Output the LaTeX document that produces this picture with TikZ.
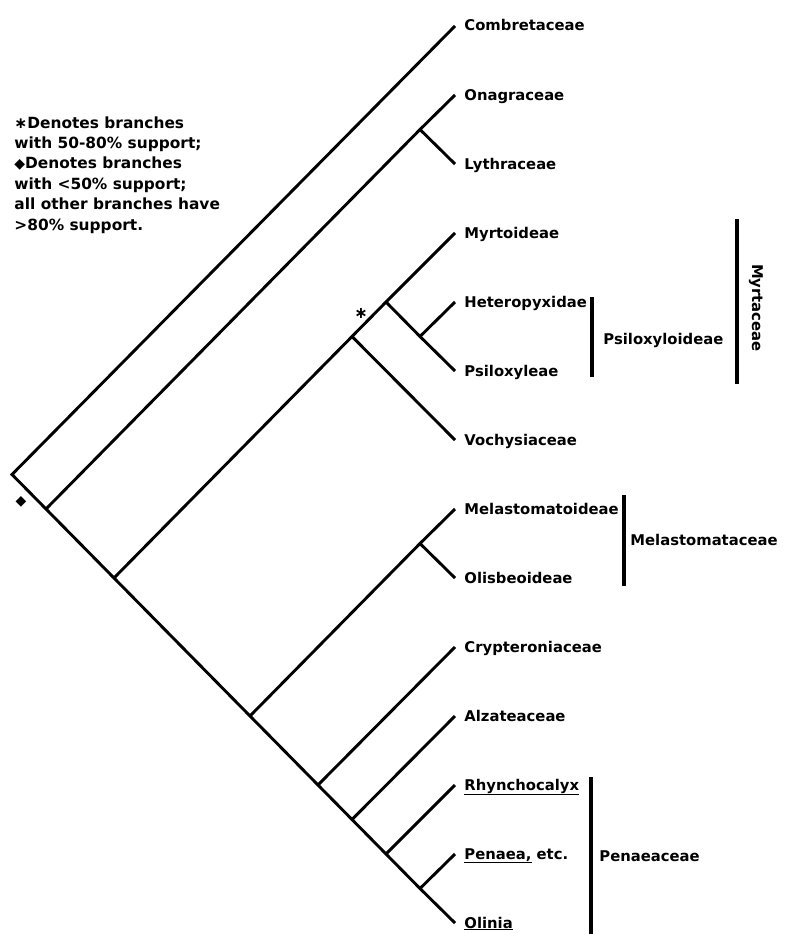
\documentclass[tikz,border=0pt]{standalone}
\usepackage{fontspec}
\setmainfont{DejaVu Sans}
\usepackage{tikz}
\usetikzlibrary{calc}

\newcommand{\weakmark}{\raisebox{0.5pt}{\fontsize{14}{14}\selectfont ◆}}

\begin{document}
\begin{tikzpicture}[x=1pt, y=-1pt, line width=2.9pt,
        taxon/.style={anchor=base west, inner sep=0pt, font=\fontsize{14.8}{18}\selectfont\bfseries},
        bar/.style={line width=3.2pt},
        legend/.style={anchor=north west, align=left, inner sep=0pt, font=\fontsize{15.4}{20.4}\selectfont\bfseries}]
        \useasboundingbox (0,0) rectangle (790,934);

        % Leaf tips and labels
        \foreach \name [count=\i] in {Combretaceae, Onagraceae, Lythraceae, Myrtoideae,
                Heteropyxidae, Psiloxyleae, Vochysiaceae, Melastomatoideae, Olisbeoideae,
                Crypteroniaceae, Alzateaceae, {\underline{Rhynchocalyx}},
                {\underline{Penaea,} etc.}, {\underline{Olinia}}}
        {
            \coordinate (t\i) at (455, {26+69*(\i-1)});
            \node[taxon] (l\i) at ([xshift=8pt, yshift=-5pt]t\i) {\name};
        }

        % Internal nodes
        \coordinate (root) at (12,474.5);
        \coordinate (n1) at (46,509);
        \coordinate (ona) at (420,129.5);
        \coordinate (n2) at (114,578);
        \coordinate (myv) at (352,336.5);
        \coordinate (myr) at (386,302);
        \coordinate (psi) at (420,336.5);
        \coordinate (n4) at (250,716);
        \coordinate (mel) at (420,543.5);
        \coordinate (n5) at (318,785);
        \coordinate (n6) at (352,819.5);
        \coordinate (n7) at (386,854);
        \coordinate (n8) at (420,888.5);

        % Branches
        \draw (t1) -- (root) -- (n1) -- (n2) -- (n4) -- (n5) -- (n6) -- (n7) -- (n8) -- (t14);
        \draw (n1) -- (ona) -- (t2);
        \draw (ona) -- (t3);
        \draw (n2) -- (myv) -- (myr) -- (t4);
        \draw (myr) -- (psi) -- (t6);
        \draw (psi) -- (t5);
        \draw (myv) -- (t7);
        \draw (n4) -- (mel) -- (t8);
        \draw (mel) -- (t9);
        \draw (n5) -- (t10);
        \draw (n6) -- (t11);
        \draw (n7) -- (t12);
        \draw (n8) -- (t13);

        % Support marks
        \node[font=\fontsize{16}{16}\selectfont\bfseries] (star) at ([xshift=9pt, yshift=23pt]myv) {∗};
        \node[inner sep=0pt] (weak) at ([xshift=9pt, yshift=-27.5pt]root) {\weakmark};

        % Group bars
        \coordinate (psiT) at (592,297);
        \coordinate (psiB) at (592,377);
        \coordinate (myrT) at (737,219);
        \coordinate (myrB) at (737,384);
        \coordinate (melT) at (624,495);
        \coordinate (melB) at (624,586);
        \coordinate (penT) at (591,777);
        \coordinate (penB) at (591,934);
        \draw[bar] (psiT) -- (psiB);
        \draw[bar] (myrT) -- (myrB);
        \draw[bar] (melT) -- (melB);
        \draw[bar] (penT) -- (penB);
        \node[taxon] (psiname) at (602,344) {Psiloxyloideae};
        \node[taxon, anchor=base, rotate=-90] (myrname) at (752,308) {Myrtaceae};
        \node[taxon] (melname) at (629,545.5) {Melastomataceae};
        \node[taxon] (penname) at (598,861.5) {Penaeaceae};

        % Legend
        \node[legend] (key) at (13,115) {∗Denotes branches\\with 50-80\% support;\\\weakmark Denotes branches\\with <50\% support;\\all other branches have\\>80\% support.};
    \end{tikzpicture}
\end{document}
